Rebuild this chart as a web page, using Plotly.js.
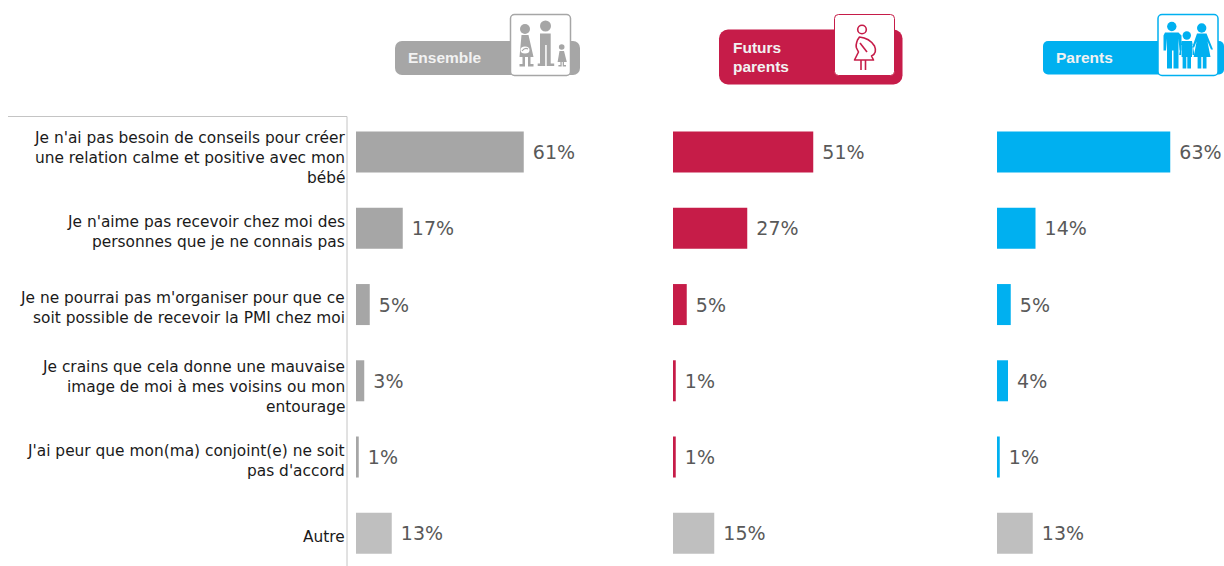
<!DOCTYPE html>
<html><head><meta charset="utf-8">
<script src="https://cdn.plot.ly/plotly-3.0.1.min.js"></script>
<style>html,body{margin:0;padding:0;background:#fff;overflow:hidden}#c{width:1224px;height:566px}</style>
</head><body><div id="c"></div>
<script>
const W = 1224, H = 566;
const labelLines = [
  ["Je n'ai pas besoin de conseils pour créer","une relation calme et positive avec mon","bébé"],
  ["Je n'aime pas recevoir chez moi des","personnes que je ne connais pas"],
  ["Je ne pourrai pas m'organiser pour que ce","soit possible de recevoir la PMI chez moi"],
  ["Je crains que cela donne une mauvaise","image de moi à mes voisins ou mon","entourage"],
  ["J'ai peur que mon(ma) conjoint(e) ne soit","pas d'accord"],
  ["Autre"]
];
const labelNudge = [7,5,4,7,5,5];
const categories = labelLines.map(l => l.join(" "));
const ensemble = [61,17,5,3,1,13];
const futurs = [51,27,5,1,1,15];
const parents = [63,14,5,4,1,13];
const seriesNames = ["Ensemble","Futurs parents","Parents"];
const seriesColors = ["#a6a6a6","#c61c48","#00b0f0"];
const otherColor = "#bfbfbf";

const PX = 2.75, RANGE = 80;
const starts = [356,673,997];
const series = [ensemble,futurs,parents];
const axisIds = ["x","x2","x3"];

const traces = series.map((vals,i)=>({
  type:"bar", orientation:"h", name:seriesNames[i],
  y:categories, x:vals, xaxis:axisIds[i], yaxis:"y",
  marker:{color:vals.map((v,j)=> j===5?otherColor:seriesColors[i]), line:{width:0}},
  text:vals.map(v=>"\u00a0"+v+"%"),
  textposition:"outside", cliponaxis:false, constraintext:"none",
  textfont:{family:"DejaVu Sans",size:19,color:"#595959"},
  hoverinfo:"skip", showlegend:false
}));

const xa = s => ({domain:[s/W,(s+PX*RANGE)/W],range:[0,RANGE],visible:false,fixedrange:true,anchor:"y"});

const annotations = [];
labelLines.forEach((lines,i)=>{
  lines.forEach((t,k)=>{
    annotations.push({text:t,xref:"paper",yref:"y",x:347/W,y:categories[i],xanchor:"right",yanchor:"middle",
      yshift:((lines.length-1)/2-k)*20+1-labelNudge[i],showarrow:false,font:{family:"DejaVu Sans",size:15.4,color:"#1a1a1a"},borderpad:1});
  });
});
const headTxt=(t,x,y)=>({text:t,xref:"paper",yref:"paper",x:x/W,y:1-y/H,xanchor:"left",yanchor:"middle",showarrow:false,
  font:{family:"Liberation Sans",size:15.5,color:"#f2f2f2"},borderpad:0});
annotations.push(headTxt("<b>Ensemble</b>",407,57),headTxt("<b>Futurs</b>",732,47),headTxt("<b>parents</b>",732,67),headTxt("<b>Parents</b>",1055,57));

const G=seriesColors[0],R=seriesColors[1],B=seriesColors[2];
const svg=`<svg xmlns="http://www.w3.org/2000/svg" width="1224" height="120" viewBox="0 0 1224 120">
<defs><filter id="b"><feGaussianBlur stdDeviation="0.35"/></filter></defs>
<g filter="url(#b)">
<rect x="395" y="41" width="185" height="34" rx="7" fill="${G}"/>
<rect x="510.5" y="14.5" width="60" height="61" rx="4" fill="#fff" stroke="${G}" stroke-width="1.5"/>
<g fill="${G}">
<circle cx="525" cy="29" r="5"/>
<path d="M521.500 35h7l5 22h-3v7h3v2.500h-5.500v-9.500h-3v9.500h-5.500v-2.500h3v-7h-3z"/>
<circle cx="545.500" cy="26" r="5.500"/>
<path d="M540 33.500h10.700v30h3.500v2.500h-7.500v-21h-1.500v21h-7.500v-2.500h2.300z"/>
<circle cx="561.700" cy="47" r="2.800"/>
<path d="M559.500 51h4.500l2.800 11h-2.800v3h2v1.500h-3.300v-4.500h-1v4.500h-3.300v-1.500h2v-3h-2.800z"/>
</g>
<ellipse cx="525" cy="50" rx="4.500" ry="3.500" fill="#fff"/><path d="M522 51q3 -4 6 -2" fill="none" stroke="${G}" stroke-width="1.200"/>
<rect x="719" y="29.500" width="183.500" height="55" rx="9" fill="${R}"/>
<rect x="834.500" y="14.500" width="60" height="61" rx="4" fill="#fff" stroke="${R}" stroke-width="1"/>
<g fill="none" stroke="${R}" stroke-width="1.600" stroke-linejoin="round">
<circle cx="862" cy="29.500" r="4.300"/>
<path d="M859.500 37q10 1 15 9q3 7 -3 10l2 4h-19l4 -8l-2 -4q-1 -3 1 -8z"/>
<path d="M860 43l7 9"/>
<path d="M861 60v10M865.500 60v10"/>
</g>
<rect x="1043" y="41" width="181" height="33.500" rx="5" fill="${B}"/>
<rect x="1158" y="14.500" width="60" height="61" rx="4" fill="#fff" stroke="${B}" stroke-width="1.500"/>
<g fill="${B}">
<circle cx="1171.800" cy="26.500" r="4.700"/>
<path d="M1165 32.500h13.500l3 3v15h-2l-1 -12v30h-5v-18h-1.500v18h-5v-30l-1 12h-2.500v-15z"/>
<circle cx="1186.800" cy="35.500" r="4.200"/>
<path d="M1181.500 41h10.500l2.500 14h-2v-10h-0.500v12h-1v11.500h-3.700v-11.500h-1v11.500h-3.700v-11.500h-1v-12h-0.500v10h-2z"/>
<circle cx="1201.700" cy="28" r="4.700"/>
<path d="M1197 33.500h9.500l6.500 16h-2l-3.500 -8l3 15.500h-4v11.500h-3.700v-11.500h-1.500v11.500h-3.700v-11.500h-4l3 -15.500l-2.500 6h-2z"/>
</g></g></svg>`;
const svgUri="data:image/svg+xml;base64,"+btoa(unescape(encodeURIComponent(svg)));

const line="#c4c4c4";
const layout={
  width:W,height:H,margin:{l:0,r:0,t:0,b:0},paper_bgcolor:"#fff",plot_bgcolor:"#fff",
  xaxis:xa(starts[0]),xaxis2:xa(starts[1]),xaxis3:xa(starts[2]),
  yaxis:{domain:[0,1-114/H],type:"category",categoryorder:"array",categoryarray:categories,range:[5.43,-0.5],visible:false,fixedrange:true,anchor:"x"},
  bargap:0.462,showlegend:false,
  annotations,
  images:[{source:svgUri,xref:"paper",yref:"paper",x:0,y:1,sizex:1,sizey:120/H,xanchor:"left",yanchor:"top",sizing:"stretch",layer:"below"}],
  shapes:[
    {type:"line",xref:"paper",yref:"paper",x0:347/W,x1:347/W,y0:0,y1:1-116.5/H,line:{color:line,width:1}},
    {type:"line",xref:"paper",yref:"paper",x0:8/W,x1:347/W,y0:1-116.5/H,y1:1-116.5/H,line:{color:line,width:1}}
  ]
};
Plotly.newPlot("c",traces,layout,{displayModeBar:false,staticPlot:true});
</script></body></html>
